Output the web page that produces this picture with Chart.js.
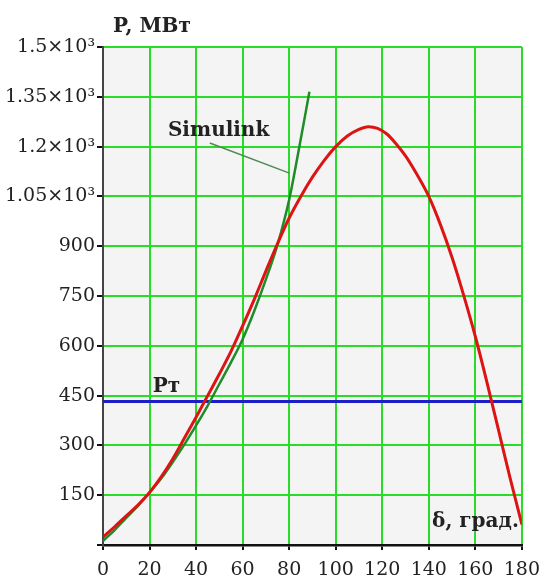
<!DOCTYPE html>
<html lang="ru">
  <head>
    <meta charset="UTF-8" />
    <title>P(δ)</title>
    <script src="https://cdn.jsdelivr.net/npm/chart.js"></script>
    <style>
      body { margin: 0; background: #fff; }
    </style>
  </head>
  <body>
    <canvas id="angleChart" width="549" height="581"></canvas>

    <script>
      // угол, град. и мощность, МВт (расчёт)
      const calcDelta = [0, 5, 10, 15, 20, 25, 30, 35, 40, 45, 50, 55, 60, 65, 70, 75, 80, 85, 90, 95, 100, 105, 110, 114, 118, 122, 126, 130, 135, 140, 145, 150, 155, 160, 165, 170, 175, 180];
      const calcP = [24, 55, 88, 120, 158, 205, 260, 322, 385, 450, 515, 583, 660, 740, 825, 908, 985, 1050, 1108, 1158, 1200, 1232, 1252, 1260, 1255, 1238, 1208, 1172, 1115, 1050, 965, 866, 752, 628, 490, 345, 200, 62];

      // Simulink
      const simDelta = [0, 5, 10, 15, 20, 25, 30, 35, 40, 45, 50, 55, 60, 65, 70, 75, 80, 84, 88.7];
      const simP = [12, 45, 82, 118, 158, 200, 250, 303, 360, 420, 485, 550, 620, 705, 800, 905, 1040, 1185, 1365];

      // мощность турбины
      const turbineDelta = [0, 180];
      const turbineP = [432, 432];

      const xTicks = [0, 20, 40, 60, 80, 100, 120, 140, 160, 180];
      const yTicks = [0, 150, 300, 450, 600, 750, 900, 1050, 1200, 1350, 1500];

      const serif = "'DejaVu Serif', 'Liberation Serif', serif";

      function toPoints(xs, ys) {
        return xs.map((x, i) => ({ x: x, y: ys[i] }));
      }

      // подписи на графике
      const notes = [
        { text: "Simulink", x: 27.9, y: 1232, align: "left" },
        { text: "Pт", x: 21.4, y: 461, align: "left" },
        { text: "δ, град.", x: 178.7, y: 54, align: "right" },
      ];
      const leader = [
        { x: 45.9, y: 1211 },
        { x: 80.1, y: 1120 },
      ];

      const plotBg = {
        id: "plotBg",
        beforeDraw(chart) {
          const { ctx, chartArea: a } = chart;
          ctx.save();
          ctx.fillStyle = "#f4f4f4";
          ctx.fillRect(a.left, a.top, a.right - a.left, a.bottom - a.top);
          ctx.restore();
        },
      };

      const notesPlugin = {
        id: "notes",
        afterDatasetsDraw(chart) {
          const { ctx, chartArea: a } = chart;
          const xs = chart.scales.x;
          const ys = chart.scales.y;
          ctx.save();
          // выноска Simulink
          ctx.strokeStyle = "#4f8a4f";
          ctx.lineWidth = 1.5;
          ctx.beginPath();
          ctx.moveTo(xs.getPixelForValue(leader[0].x), ys.getPixelForValue(leader[0].y));
          ctx.lineTo(xs.getPixelForValue(leader[1].x), ys.getPixelForValue(leader[1].y));
          ctx.stroke();

          ctx.fillStyle = "#222";
          ctx.font = "bold 20px " + serif;
          ctx.textBaseline = "alphabetic";
          notes.forEach((n) => {
            ctx.textAlign = n.align;
            ctx.fillText(n.text, xs.getPixelForValue(n.x), ys.getPixelForValue(n.y));
          });
          ctx.textAlign = "left";
          ctx.fillText("P, МВт", a.left + 10, a.top - 15);
          ctx.restore();
        },
      };

      new Chart(document.getElementById("angleChart"), {
        type: "line",
        data: {
          datasets: [
            {
              label: "P",
              data: toPoints(calcDelta, calcP),
              borderColor: "rgb(220, 20, 20)",
              borderWidth: 3,
              pointRadius: 0,
              cubicInterpolationMode: "monotone",
            },
            {
              label: "Simulink",
              data: toPoints(simDelta, simP),
              borderColor: "rgb(30, 140, 40)",
              borderWidth: 2.5,
              pointRadius: 0,
              cubicInterpolationMode: "monotone",
            },
            {
              label: "Pт",
              data: toPoints(turbineDelta, turbineP),
              borderColor: "rgb(30, 30, 200)",
              borderWidth: 3,
              pointRadius: 0,
            },
          ],
        },
        options: {
          responsive: false,
          animation: false,
          layout: { padding: { top: 47, right: 26, left: 0, bottom: 0 } },
          plugins: {
            legend: { display: false },
            tooltip: { enabled: false },
          },
          scales: {
            x: {
              type: "linear",
              min: 0,
              max: 180,
              afterBuildTicks: (s) => { s.ticks = xTicks.map((v) => ({ value: v })); },
              afterFit: (s) => { s.height = 36; },
              grid: { color: "rgb(40, 220, 40)", lineWidth: 2, tickColor: "#111", tickLength: 5 },
              border: { color: "#111", width: 2.5 },
              ticks: {
                autoSkip: false,
                maxRotation: 0,
                color: "#222",
                padding: 9,
                font: { family: serif, size: 19 },
              },
            },
            y: {
              min: 0,
              max: 1500,
              afterBuildTicks: (s) => { s.ticks = yTicks.map((v) => ({ value: v })); },
              afterFit: (s) => { s.width = 103; },
              grid: { color: "rgb(40, 220, 40)", lineWidth: 2, tickColor: "#111", tickLength: 6 },
              border: { color: "#444", width: 2 },
              ticks: {
                autoSkip: false,
                color: "#222",
                padding: 2,
                font: { family: serif, size: 19 },
                callback: (v) => (v === 0 ? "" : v >= 1050 ? v / 1000 + "×10³" : String(v)),
              },
            },
          },
        },
        plugins: [plotBg, notesPlugin],
      });
    </script>
  </body>
</html>
